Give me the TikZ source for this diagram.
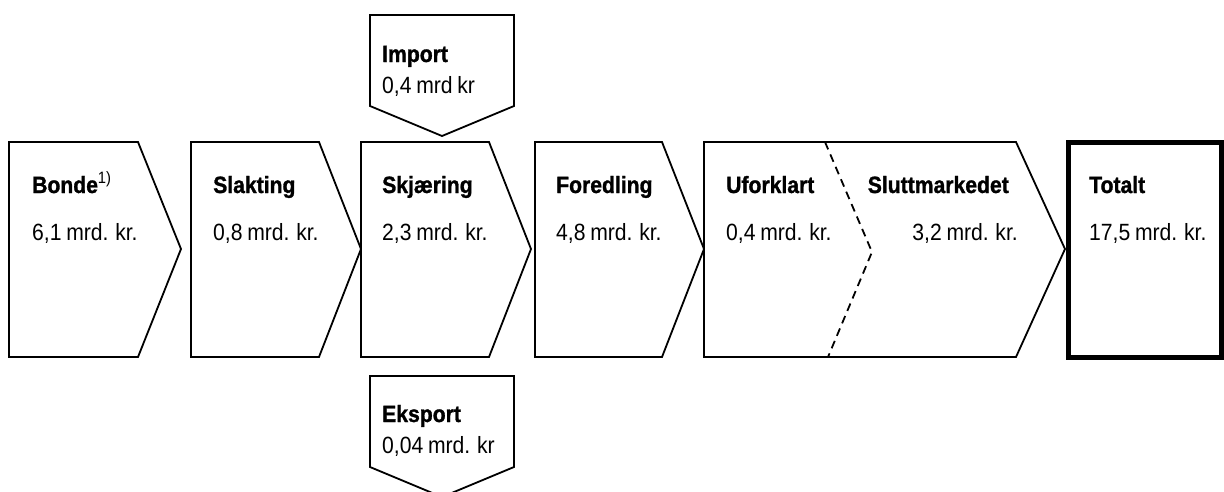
\documentclass[tikz,border=0pt]{standalone}
\usepackage{fontspec}
\setmainfont{Liberation Sans}[FakeStretch=0.9, WordSpace=0.8, BoldFeatures={FakeBold=1.2}]
\usetikzlibrary{calc}
\tikzset{
    chev/.style={draw=black, line width=1.8pt, line join=miter},
    total/.style={draw=black, line width=5pt, line join=miter},
    lbl/.style={anchor=base west, inner sep=0pt, font=\fontsize{23.5}{28}\selectfont\bfseries},
    val/.style={anchor=base west, inner sep=0pt, font=\fontsize{23.5}{28}\selectfont},
}

\begin{document}
\begin{tikzpicture}[x=1pt, y=-1pt]
    \useasboundingbox (0,0) rectangle (1224,491);

    % Bonde
    \draw[chev] (9,142) -- (138,142) -- (181,249) -- (138,357) -- (9,357) -- cycle;
    % Text
    \node[lbl] (bonde) at (32,193) {Bonde\textsuperscript{\mdseries 1)}};
    \node[val] (bondeval) at (32,240) {6,1 mrd. kr.};

    % Slakting
    \draw[chev] (191,142) -- (319,142) -- (361,249) -- (319,357) -- (191,357) -- cycle;
    % Text
    \node[lbl] (slakt) at (213,193) {Slakting};
    \node[val] (slaktval) at (213,240) {0,8 mrd. kr.};

    % Skjaering
    \draw[chev] (361,142) -- (489,142) -- (531,249) -- (489,357) -- (361,357) -- cycle;
    % Text
    \node[lbl] (skj) at (382,193) {Skjæring};
    \node[val] (skjval) at (382,240) {2,3 mrd. kr.};

    % Foredling
    \draw[chev] (535,142) -- (662,142) -- (704,249) -- (662,357) -- (535,357) -- cycle;
    % Text
    \node[lbl] (fored) at (556,193) {Foredling};
    \node[val] (foredval) at (556,240) {4,8 mrd. kr.};

    % Uforklart and Sluttmarkedet
    \draw[chev] (704,142) -- (1016,142) -- (1065,249) -- (1016,357) -- (704,357) -- cycle;
    \draw[line width=1.8pt, dash pattern=on 8pt off 5.5pt] (825,142) -- (872,252) -- (828,357);
    % Text
    \node[lbl] (ufork) at (726,193) {Uforklart};
    \node[val] (uforkval) at (726,240) {0,4 mrd. kr.};
    \node[lbl, anchor=base east] (slutt) at (1009,193) {Sluttmarkedet};
    \node[val, anchor=base east] (sluttval) at (1018,240) {3,2 mrd. kr.};

    % Totalt
    \draw[total] (1068,142) rectangle (1221.5,357.5);
    % Text
    \node[lbl] (tot) at (1089,193) {Totalt};
    \node[val] (totval) at (1089,240) {17,5 mrd. kr.};

    % Import
    \draw[chev] (370,15) -- (514,15) -- (514,106) -- (442,136) -- (370,106) -- cycle;
    \node[lbl] (imp) at (382,62) {Import};
    \node[val] (impval) at (382,93) {0,4 mrd kr};

    % Eksport
    \draw[chev] (370,376) -- (514,376) -- (514,467) -- (442,497) -- (370,467) -- cycle;
    \node[lbl] (eks) at (382,422) {Eksport};
    \node[val] (eksval) at (382,453) {0,04 mrd. kr};
\end{tikzpicture}
\end{document}
